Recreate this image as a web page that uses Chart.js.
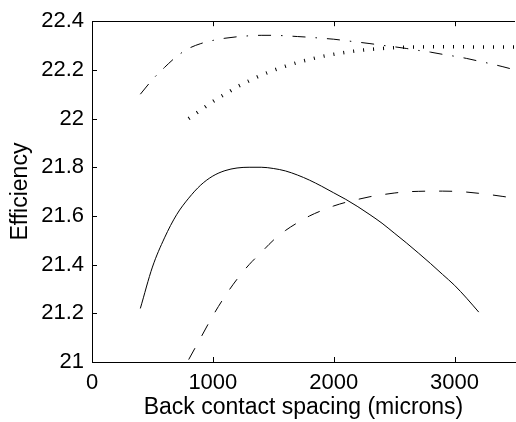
<!DOCTYPE html>
<html>
<head>
<meta charset="utf-8">
<script src="https://cdn.jsdelivr.net/npm/chart.js@4/dist/chart.umd.min.js"></script>
<style>
    html, body { margin: 0; padding: 0; background: #fff; }
    #wrap { width: 516px; height: 422px; }
</style>
</head>
<body>
<div id="wrap"><canvas id="chart" width="516" height="422"></canvas></div>
<script>
const FONT = "'Liberation Sans', Arial, Helvetica, sans-serif";

// values
const solidX = [400, 500, 600, 700, 800, 900, 1000, 1100, 1200, 1300, 1400, 1500, 1600, 1700, 1800,
    1900, 2000, 2100, 2200, 2300, 2400, 2500, 2600, 2700, 2800, 2900, 3000, 3100, 3200];
const solidY = [21.22, 21.39, 21.51, 21.605, 21.673, 21.727, 21.764, 21.786, 21.797, 21.80, 21.80, 21.795,
    21.785, 21.768, 21.747, 21.722, 21.695, 21.668, 21.638, 21.605, 21.57, 21.53, 21.49, 21.448, 21.405,
    21.36, 21.315, 21.262, 21.205];

const dashedX = [800, 900, 1000, 1100, 1200, 1300, 1400, 1500, 1600, 1700, 1800, 1900, 2000, 2100, 2200,
    2300, 2400, 2500, 2600, 2700, 2800, 2900, 3000, 3100, 3200, 3300, 3400, 3500];
const dashedY = [21.01, 21.10, 21.19, 21.27, 21.34, 21.40, 21.45, 21.50, 21.54, 21.572, 21.60, 21.622,
    21.641, 21.656, 21.668, 21.679, 21.687, 21.694, 21.699, 21.701, 21.702, 21.702, 21.701, 21.698,
    21.693, 21.687, 21.68, 21.673];

const dashDotX = [400, 500, 600, 700, 800, 900, 1000, 1100, 1200, 1300, 1400, 1500, 1600, 1700, 1800,
    1900, 2000, 2100, 2200, 2300, 2400, 2500, 2600, 2700, 2800, 2900, 3000, 3100, 3200, 3300, 3400, 3500];
const dashDotY = [22.10, 22.16, 22.21, 22.255, 22.288, 22.308, 22.321, 22.33, 22.336, 22.34, 22.342,
    22.342, 22.34, 22.337, 22.334, 22.33, 22.326, 22.32, 22.314, 22.308, 22.301, 22.295, 22.288, 22.28,
    22.273, 22.264, 22.256, 22.247, 22.236, 22.225, 22.213, 22.20];

const dottedX = [800, 900, 1000, 1100, 1200, 1300, 1400, 1500, 1600, 1700, 1800, 1900, 2000, 2100, 2200,
    2300, 2400, 2500, 2600, 2700, 2800, 2900, 3000, 3100, 3200, 3300, 3400, 3500];
const dottedY = [22.0, 22.035, 22.07, 22.10, 22.13, 22.155, 22.178, 22.198, 22.215, 22.23, 22.243,
    22.255, 22.264, 22.272, 22.279, 22.284, 22.288, 22.291, 22.293, 22.294, 22.295, 22.295, 22.295,
    22.295, 22.294, 22.294, 22.294, 22.294];

const xTicks = [0, 1000, 2000, 3000];
const yTicks = [21, 21.2, 21.4, 21.6, 21.8, 22, 22.2, 22.4];

const points = (xs, ys) => xs.map((x, i) => ({ x: x, y: ys[i] }));

const line = (data, dash, width) => ({
    data: data,
    borderColor: "#000",
    borderWidth: width,
    borderDash: dash,
    borderCapStyle: "butt",
    pointRadius: 0,
    cubicInterpolationMode: "monotone",
    fill: false,
});

// matlab style: ticks inside the box, plus a top border with ticks
const boxTicks = {
    id: "boxTicks",
    afterDraw(chart) {
        const ctx = chart.ctx;
        const area = chart.chartArea;
        const xs = chart.scales.x;
        const ys = chart.scales.y;
        const len = 5;
        ctx.save();
        ctx.strokeStyle = "#000";
        ctx.lineWidth = 1;
        ctx.beginPath();
        ctx.moveTo(area.left, Math.round(area.top) + 0.5);
        ctx.lineTo(area.right, Math.round(area.top) + 0.5);
        xTicks.forEach((v) => {
            const px = Math.round(xs.getPixelForValue(v)) + 0.5;
            ctx.moveTo(px, area.bottom);
            ctx.lineTo(px, area.bottom - len);
            ctx.moveTo(px, area.top);
            ctx.lineTo(px, area.top + len);
        });
        yTicks.forEach((v) => {
            const py = Math.round(ys.getPixelForValue(v)) + 0.5;
            ctx.moveTo(area.left, py);
            ctx.lineTo(area.left + len, py);
        });
        ctx.stroke();
        ctx.restore();
    },
};

new Chart(document.getElementById("chart"), {
    type: "line",
    data: {
        datasets: [
            line(points(solidX, solidY), [], 1),
            line(points(dashedX, dashedY), [13, 14], 1),
            line(points(dashDotX, dashDotY), [13, 10, 1.5, 10], 1),
            line(points(dottedX, dottedY), [1, 9], 3.5),
        ],
    },
    options: {
        responsive: false,
        animation: false,
        devicePixelRatio: 1,
        layout: { padding: { top: 19, right: 1, left: 0, bottom: 0 } },
        plugins: {
            legend: { display: false },
            tooltip: { enabled: false },
        },
        scales: {
            x: {
                type: "linear",
                min: 0,
                max: 3500,
                afterBuildTicks(scale) {
                    scale.ticks = xTicks.map((v) => ({ value: v }));
                },
                afterFit(scale) {
                    scale.height = 60;
                },
                ticks: {
                    color: "#000",
                    font: { family: FONT, size: 22 },
                    padding: 8,
                    maxRotation: 0,
                    autoSkip: false,
                    callback: (v) => String(v),
                },
                grid: { display: false, drawTicks: false },
                border: { display: true, color: "#000", width: 1 },
                title: {
                    display: true,
                    text: "Back contact spacing (microns)",
                    color: "#000",
                    font: { family: FONT, size: 23 },
                    padding: { top: 0, bottom: 1 },
                },
            },
            y: {
                min: 21,
                max: 22.4,
                afterBuildTicks(scale) {
                    scale.ticks = yTicks.map((v) => ({ value: v }));
                },
                afterFit(scale) {
                    scale.width = 92;
                },
                ticks: {
                    color: "#000",
                    font: { family: FONT, size: 22 },
                    padding: 8,
                    autoSkip: false,
                    callback: (v) => String(Number(v.toFixed(1))),
                },
                grid: { display: false, drawTicks: false },
                border: { display: true, color: "#000", width: 1 },
                title: {
                    display: true,
                    text: "Efficiency",
                    color: "#000",
                    font: { family: FONT, size: 23 },
                    padding: { top: 7, bottom: 0 },
                },
            },
        },
    },
    plugins: [boxTicks],
});
</script>
</body>
</html>
